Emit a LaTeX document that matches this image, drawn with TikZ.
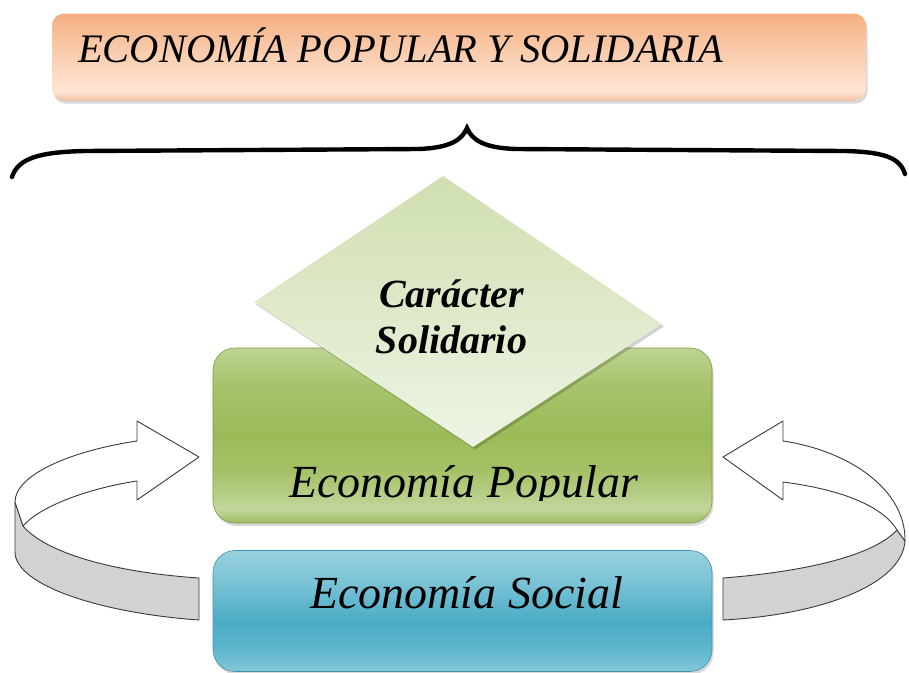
\documentclass[tikz,border=0pt]{standalone}
\usepackage{fontspec}
\setmainfont{Liberation Serif}
\usetikzlibrary{shadows}
\definecolor{or1}{HTML}{F4AE80}
\definecolor{or2}{HTML}{F9CAAA}
\definecolor{or3}{HTML}{FDE5D4}
\definecolor{or4}{HTML}{F3C09E}
\definecolor{gr1}{HTML}{BDD491}
\definecolor{gr2}{HTML}{A6C36A}
\definecolor{gr3}{HTML}{9BBB59}
\definecolor{gr4}{HTML}{A5C166}
\definecolor{gr5}{HTML}{C2D69C}
\definecolor{gr6}{HTML}{9FBB62}
\definecolor{grEdge}{HTML}{7E9B43}
\definecolor{bl1}{HTML}{98D0DF}
\definecolor{bl2}{HTML}{7BC3D6}
\definecolor{bl3}{HTML}{4BACC6}
\definecolor{bl4}{HTML}{5CB5CC}
\definecolor{bl5}{HTML}{84C7D8}
\definecolor{blEdge}{HTML}{3F93AA}
\definecolor{dmTop}{HTML}{CFDFB0}
\definecolor{dmBot}{HTML}{EEF4E4}
\definecolor{ribbon}{HTML}{D2D2D2}
\definecolor{outl}{HTML}{3A3A3A}
\pgfdeclareverticalshading{orshade}{100bp}{color(0bp)=(or4); color(25bp)=(or4); color(30bp)=(or3); color(55bp)=(or2); color(75bp)=(or1); color(100bp)=(or1)}
\pgfdeclareverticalshading{grshade}{100bp}{color(0bp)=(gr6); color(25bp)=(gr6); color(29bp)=(gr5); color(40bp)=(gr4); color(50bp)=(gr3); color(64bp)=(gr2); color(75bp)=(gr1); color(100bp)=(gr1)}
\pgfdeclareverticalshading{blshade}{100bp}{color(0bp)=(bl5); color(25bp)=(bl5); color(35bp)=(bl4); color(46bp)=(bl3); color(62bp)=(bl2); color(75bp)=(bl1); color(100bp)=(bl1)}
\begin{document}
\begin{tikzpicture}[x=1pt,y=-1pt,
  boxshadow/.style={drop shadow={shadow xshift=1.5pt,shadow yshift=-3pt,opacity=0.3}},
  titlebox/.style={rounded corners=12pt, minimum width=814pt, minimum height=87pt,
    shading=orshade, boxshadow, inner sep=0pt},
  greenbox/.style={rounded corners=22pt, minimum width=499pt, minimum height=175pt,
    shading=grshade, draw=grEdge, line width=0.6pt, boxshadow, inner sep=0pt},
  bluebox/.style={rounded corners=22pt, minimum width=499pt, minimum height=121pt,
    shading=blshade, draw=blEdge, line width=0.6pt, boxshadow, inner sep=0pt},
  arrowline/.style={draw=outl, line width=0.9pt, line join=round},
  titletext/.style={font=\fontsize{40.5}{42}\selectfont\itshape, inner sep=0pt},
  diatext/.style={font=\fontsize{40}{46}\selectfont\bfseries\itshape, inner sep=0pt},
  boxtext/.style={font=\fontsize{46}{50}\selectfont\itshape, inner sep=0pt},
  bracestyle/.style={draw=black, line width=4.4pt, line cap=round}
]
\useasboundingbox (0,0) rectangle (909,672);
\fill[white] (0,0) rectangle (909,672);

% title
\node[titlebox] (title) at (459,57) {};
\node[titletext, anchor=base west] (titletxt) at (78,62) {ECONOMÍA POPULAR Y SOLIDARIA};

% brace
\coordinate (brL) at (12,177);
\coordinate (brTip) at (467,128);
\coordinate (brR) at (905,174);
\draw[bracestyle] (brL) .. controls (18,158) and (40,152) .. (85,151)
  -- (418,149) .. controls (450,148) and (462,140) .. (brTip)
  .. controls (472,140) and (484,148) .. (516,149)
  -- (845,151) .. controls (885,152) and (900,158) .. (brR);

% blue and green boxes
\node[bluebox] (social) at (462.5,611) {};
\node[greenbox] (popular) at (462.5,435.5) {};

% diamond
\coordinate (dT) at (443,176);
\coordinate (dR) at (662,324);
\coordinate (dB) at (473,447);
\coordinate (dL) at (254,302);
\fill[black, opacity=0.18] ([shift={(2,2.5)}]dT) -- ([shift={(2,2.5)}]dR) -- ([shift={(2,2.5)}]dB) -- ([shift={(2,2.5)}]dL) -- cycle;
\shade[top color=dmTop, bottom color=dmBot] (dT) -- (dR) -- (dB) -- (dL) -- cycle;
\node[diatext, anchor=base] (car) at (451.5,307) {Carácter};
\node[diatext, anchor=base] (sol) at (451.5,353) {Solidario};

% box texts
\begin{scope}
  \clip (213,348) rectangle (712,500);
  \node[boxtext, anchor=base] (popTxt) at (463.5,497) {Economía Popular};
\end{scope}
\node[boxtext, anchor=base] (socTxt) at (466.5,608) {Economía Social};

% left arrow
\coordinate (La) at (15,502);
\coordinate (Lb) at (15,552);
\coordinate (Lc) at (199,620);
\coordinate (Ld) at (199,578);
\coordinate (Le) at (23,526);
\coordinate (Lh1) at (137,441);
\coordinate (Lh2) at (137,421);
\coordinate (Ltip) at (199,457);
\coordinate (Lh3) at (137,500);
\coordinate (Lh4) at (137,481);
\filldraw[arrowline, fill=ribbon] (La) -- (Lb) .. controls (15,585) and (100,613) .. (Lc)
  -- (Ld) .. controls (110,572) and (45,552) .. (Le) -- cycle;
\filldraw[arrowline, fill=white] (Lh1) .. controls (70,451) and (15,475) .. (La) -- (Le)
  .. controls (40,506) and (90,488) .. (Lh4) -- (Lh3) -- (Ltip) -- (Lh2) -- cycle;

% right arrow
\coordinate (Rm) at (897,530);
\coordinate (Ro) at (905,541);
\coordinate (Rc) at (723,620);
\coordinate (Rd) at (723,578);
\coordinate (Rh1) at (783,441);
\coordinate (Rh2) at (783,421);
\coordinate (Rtip) at (723,457);
\coordinate (Rh3) at (783,500);
\coordinate (Rh4) at (783,482);
\filldraw[arrowline, fill=ribbon] (Rd) .. controls (800,572) and (872,557) .. (Rm) -- (Ro)
  .. controls (902,585) and (820,615) .. (Rc) -- cycle;
\filldraw[arrowline, fill=white] (Rh1) .. controls (850,451) and (906,490) .. (Ro) -- (Rm)
  .. controls (880,502) and (830,488) .. (Rh4) -- (Rh3) -- (Rtip) -- (Rh2) -- cycle;
\end{tikzpicture}
\end{document}
